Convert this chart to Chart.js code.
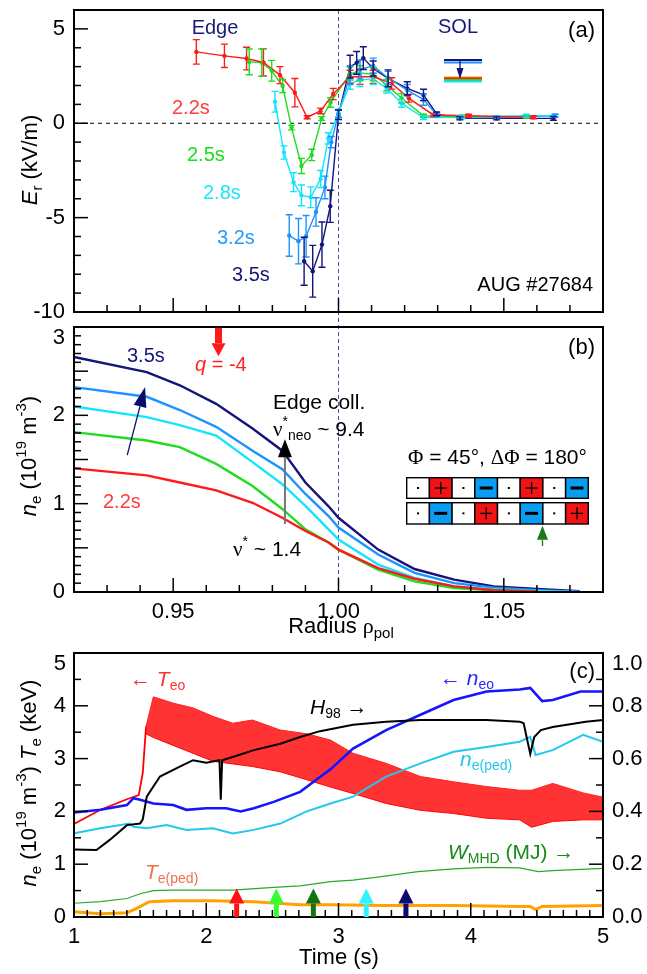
<!DOCTYPE html>
<html>
<head>
<meta charset="utf-8">
<script src="https://cdn.jsdelivr.net/npm/chart.js@4.4.1/dist/chart.umd.min.js"></script>
<style>
  html, body { margin: 0; padding: 0; background: #fff; }
  #wrap { position: relative; width: 647px; height: 974px; overflow: hidden; }
  canvas { position: absolute; left: 0; }
</style>
</head>
<body>
<div id="wrap">
  <canvas id="chartA" width="647" height="330" style="top:0px"></canvas>
  <canvas id="chartB" width="647" height="330" style="top:318px"></canvas>
  <canvas id="chartC" width="647" height="334" style="top:640px"></canvas>
</div>
<script>
// ---- panel (a): Er profiles, radius vs kV/m, with error bars ----
const erX22 = [0.957, 0.9655, 0.9722, 0.9773, 0.9823, 0.9868, 0.9905, 0.9946, 0.9984, 1.0035, 1.0065, 1.0105, 1.0161, 1.0213, 1.0287, 1.0393, 1.059];
const erY22 = [3.78, 3.57, 3.43, 3.22, 2.55, 1.62, 0.32, 0.65, 1.55, 2.46, 2.46, 2.46, 2.11, 1.32, 0.44, 0.40, 0.32];
const erE22 = [0.65, 0.62, 0.6, 0.72, 0.45, 0.75, 0.08, 0.15, 0.3, 0.35, 0.4, 0.35, 0.3, 0.2, 0.08, 0.08, 0.08];

const erX25 = [0.973, 0.9768, 0.9798, 0.9831, 0.9858, 0.9888, 0.9919, 0.9949, 0.9976, 1.0035, 1.0065, 1.0105, 1.0146, 1.0191, 1.0257, 1.0373, 1.0568];
const erY25 = [3.25, 3.21, 2.78, 1.97, -0.23, -2.26, -1.68, 0.25, 1.1, 2.64, 2.65, 2.6, 2.02, 1.32, 0.4, 0.35, 0.35];
const erE25 = [0.68, 0.72, 0.55, 0.35, 0.12, 0.4, 0.3, 0.1, 0.25, 0.35, 0.4, 0.35, 0.3, 0.25, 0.08, 0.08, 0.08];

const erX28 = [0.9808, 0.9835, 0.9864, 0.9888, 0.9916, 0.9946, 0.9969, 1.0, 1.0035, 1.0065, 1.0105, 1.0146, 1.0191, 1.0257, 1.0373, 1.0568, 1.0655];
const erY28 = [1.14, -1.55, -3.12, -3.82, -3.92, -2.95, -0.8, 0.55, 2.1, 2.3, 2.35, 1.85, 1.05, 0.3, 0.32, 0.4, 0.4];
const erE28 = [0.55, 0.35, 0.5, 0.55, 0.55, 0.45, 0.3, 0.2, 0.3, 0.35, 0.3, 0.25, 0.2, 0.1, 0.08, 0.08, 0.08];

const erX32 = [0.9851, 0.9879, 0.9902, 0.9932, 0.9959, 0.9978, 1.0, 1.0035, 1.0065, 1.0105, 1.015, 1.0208, 1.0257, 1.0297, 1.0367, 1.0478, 1.0655];
const erY32 = [-5.95, -6.25, -5.99, -4.7, -3.4, -1.0, 0.5, 2.55, 2.85, 3.05, 2.4, 1.75, 1.25, 0.45, 0.3, 0.3, 0.4];
const erE32 = [1.1, 1.2, 1.1, 0.75, 0.6, 0.3, 0.2, 0.5, 0.5, 0.4, 0.35, 0.3, 0.3, 0.1, 0.08, 0.08, 0.08];

const erX35 = [0.9896, 0.9922, 0.995, 0.9975, 1.0, 1.0035, 1.0055, 1.0075, 1.0105, 1.015, 1.0208, 1.0257, 1.0297, 1.0367, 1.0478, 1.065];
const erY35 = [-7.31, -7.84, -6.43, -4.4, 0.45, 3.0, 3.2, 3.45, 2.9, 2.38, 1.85, 1.5, 0.5, 0.26, 0.26, 0.26];
const erE35 = [1.27, 1.37, 1.2, 0.85, 0.25, 0.6, 0.6, 0.6, 0.4, 0.45, 0.35, 0.3, 0.1, 0.08, 0.08, 0.1];

const erTicks = [-10, -5, 0, 5];

// ---- panel (b): density profiles ----
const profX = [0.92, 0.942, 0.952, 0.963, 0.974, 0.983, 0.990, 0.997, 1.000, 1.012, 1.023, 1.035, 1.047, 1.060, 1.073];
const ne35 = [2.66, 2.49, 2.34, 2.13, 1.85, 1.60, 1.24, 0.97, 0.84, 0.48, 0.26, 0.14, 0.064, 0.034, 0.01];
const ne32 = [2.32, 2.21, 2.06, 1.87, 1.60, 1.39, 1.11, 0.86, 0.73, 0.425, 0.216, 0.10, 0.05, 0.02, 0.0];
const ne28 = [2.10, 1.98, 1.89, 1.77, 1.47, 1.22, 0.975, 0.71, 0.595, 0.31, 0.16, 0.064, 0.03, 0.012, 0.0];
const ne25 = [1.81, 1.715, 1.64, 1.45, 1.20, 0.94, 0.71, 0.56, 0.48, 0.254, 0.12, 0.045, 0.02, 0.005, null];
const ne22 = [1.40, 1.32, 1.24, 1.15, 1.01, 0.84, 0.69, 0.56, 0.48, 0.27, 0.15, 0.064, 0.02, 0.005, null];
const radiusTicks = [0.95, 1.0, 1.05];
const neTicks = [0, 1, 2, 3];
const coilRow1 = ['.', '+', '.', '-', '.', '+', '.', '-'];
const coilRow2 = ['.', '-', '.', '+', '.', '-', '.', '+'];

// ---- panel (c): time traces ----
const teoT0 = [1.0, 1.2, 1.4, 1.49, 1.52, 1.545];
const teo0 = [1.76, 2.03, 2.23, 2.31, 2.73, 3.61];
const teoT = [1.545, 1.6, 1.75, 1.9, 2.05, 2.2, 2.35, 2.56, 2.76, 2.94, 3.11, 3.36, 3.62, 3.87, 4.12, 4.37, 4.46, 4.62, 4.85, 5.0];
const teoHi = [3.61, 4.17, 4.05, 3.96, 3.80, 3.67, 3.73, 3.54, 3.47, 3.35, 3.1, 2.91, 2.66, 2.56, 2.47, 2.40, 2.40, 2.53, 2.35, 2.27];
const teoLo = [3.47, 3.4, 3.25, 3.1, 2.95, 2.9, 2.85, 2.75, 2.6, 2.46, 2.34, 2.15, 2.02, 1.96, 1.87, 1.84, 1.70, 1.81, 1.84, 1.84];

const neoT = [1.0, 1.2, 1.4, 1.45, 1.5, 1.6, 1.75, 1.85, 2.0, 2.15, 2.26, 2.36, 2.51, 2.71, 2.86, 2.94, 3.11, 3.36, 3.62, 3.87, 4.12, 4.37, 4.45, 4.54, 4.62, 4.83, 5.0];
const neo = [1.98, 2.03, 2.12, 2.25, 2.22, 2.15, 2.12, 2.03, 2.06, 2.06, 2.0, 2.06, 2.18, 2.37, 2.65, 2.8, 3.19, 3.54, 3.83, 4.11, 4.27, 4.31, 4.34, 4.09, 4.11, 4.27, 4.27];

const nePedT = [1.0, 1.2, 1.42, 1.45, 1.55, 1.7, 1.85, 2.05, 2.2, 2.36, 2.56, 2.76, 2.94, 3.11, 3.36, 3.62, 3.87, 4.12, 4.37, 4.45, 4.49, 4.62, 4.85, 5.0];
const nePed = [1.585, 1.68, 1.77, 1.71, 1.68, 1.74, 1.65, 1.68, 1.58, 1.65, 1.77, 2.0, 2.15, 2.28, 2.66, 2.91, 3.13, 3.22, 3.32, 3.41, 3.07, 3.16, 3.45, 3.32];

const h98T = [1.0, 1.17, 1.27, 1.4, 1.5, 1.52, 1.55, 1.65, 1.8, 1.9, 2.0, 2.1, 2.11, 2.12, 2.2, 2.36, 2.56, 2.71, 2.86, 3.11, 3.36, 3.62, 3.87, 4.12, 4.37, 4.4, 4.45, 4.48, 4.53, 4.62, 4.87, 5.0];
const h98 = [0.256, 0.254, 0.292, 0.348, 0.354, 0.37, 0.456, 0.532, 0.57, 0.594, 0.584, 0.594, 0.444, 0.594, 0.606, 0.632, 0.656, 0.682, 0.704, 0.728, 0.74, 0.746, 0.746, 0.746, 0.74, 0.734, 0.618, 0.682, 0.708, 0.72, 0.74, 0.746];

const wT = [1.0, 1.2, 1.4, 1.5, 1.6, 1.75, 2.05, 2.2, 2.51, 2.71, 2.94, 3.11, 3.31, 3.6, 3.87, 4.12, 4.37, 4.51, 4.62, 5.0];
const wMhd = [0.052, 0.058, 0.07, 0.088, 0.1, 0.102, 0.102, 0.102, 0.112, 0.118, 0.134, 0.14, 0.152, 0.172, 0.182, 0.188, 0.186, 0.172, 0.176, 0.184];

const tePedT = [1.0, 1.2, 1.4, 1.47, 1.57, 1.75, 2.05, 2.36, 2.71, 2.94, 3.36, 3.87, 4.37, 4.45, 4.49, 4.54, 5.0];
const tePed = [0.1, 0.06, 0.08, 0.16, 0.29, 0.31, 0.31, 0.29, 0.23, 0.23, 0.22, 0.22, 0.2, 0.2, 0.14, 0.2, 0.22];

const markTimes = [2.23, 2.53, 2.81, 3.21, 3.51];
const markColors = ["#ff1111", "#33ff33", "#127512", "#33f2ff", "#0c0c6e"];
const timeTicks = [1, 2, 3, 4, 5];
const leftTicks = [0, 1, 2, 3, 4, 5];
const rightTicks = [0, 0.2, 0.4, 0.6, 0.8, 1.0];

const FONT = '"Liberation Sans", Arial, Helvetica, sans-serif';
const SERIF = '"Liberation Serif", "DejaVu Serif", serif';
Chart.defaults.font.family = FONT;
Chart.defaults.color = "#000";

const C22 = "#ff1a1a", C25 = "#1fdc1f", C28 = "#14e4ff", C32 = "#1c94ff", C35 = "#14147a";

/**
 * Draw a run of text pieces (italic / sub / sup / greek) in one go.
 */
function drawRich(ctx, parts, x, y, o) {
  const size = o.size || 20;
  const fontOf = (p) => {
    const s = p.sub || p.sup ? Math.round(size * 0.68) : size;
    return (p.it ? "italic " : "") + s + "px " + (p.g ? SERIF : FONT);
  };
  ctx.save();
  ctx.fillStyle = o.color || "#000";
  ctx.textBaseline = "middle";
  ctx.textAlign = "left";
  let w = 0;
  parts.forEach((p) => { ctx.font = fontOf(p); w += ctx.measureText(p.t).width; });
  ctx.translate(x, y);
  if (o.rotate) ctx.rotate(-Math.PI / 2);
  let cx = o.align === "center" ? -w / 2 : o.align === "right" ? -w : 0;
  parts.forEach((p) => {
    ctx.font = fontOf(p);
    const dy = p.sub ? size * 0.3 : p.sup ? -size * 0.36 : 0;
    ctx.fillText(p.t, cx, dy);
    cx += ctx.measureText(p.t).width;
  });
  ctx.restore();
}

/**
 * Arrow from (x1,y1) to tip (x2,y2).
 */
function drawArrow(ctx, x1, y1, x2, y2, o) {
  const ang = Math.atan2(y2 - y1, x2 - x1);
  const hw = o.headW / 2;
  const bx = x2 - o.headL * Math.cos(ang), by = y2 - o.headL * Math.sin(ang);
  ctx.save();
  ctx.strokeStyle = o.shaft || o.color;
  ctx.lineWidth = o.width;
  ctx.beginPath();
  ctx.moveTo(x1, y1);
  ctx.lineTo(bx, by);
  ctx.stroke();
  ctx.fillStyle = o.color;
  ctx.beginPath();
  ctx.moveTo(x2, y2);
  ctx.lineTo(bx + hw * Math.sin(ang), by - hw * Math.cos(ang));
  ctx.lineTo(bx - hw * Math.sin(ang), by + hw * Math.cos(ang));
  ctx.closePath();
  ctx.fill();
  ctx.restore();
}

/**
 * Inward tick marks along one side of the plot box.
 */
function drawTicks(ctx, scale, step, major, side, a) {
  const first = Math.ceil(scale.min / step - 1e-9);
  const last = Math.floor(scale.max / step + 1e-9);
  for (let k = first; k <= last; k++) {
    const v = k * step;
    const r = v / major;
    const len = Math.abs(r - Math.round(r)) < 1e-6 ? 14 : 7;
    const p = scale.getPixelForValue(v);
    ctx.beginPath();
    if (side === "bottom") { ctx.moveTo(p, a.bottom); ctx.lineTo(p, a.bottom - len); }
    else if (side === "left") { ctx.moveTo(a.left, p); ctx.lineTo(a.left + len, p); }
    else { ctx.moveTo(a.right, p); ctx.lineTo(a.right - len, p); }
    ctx.stroke();
  }
}

function framePlugin(cfg) {
  return {
    id: "frame",
    afterDatasetsDraw(chart) {
      const { ctx, chartArea: a, scales } = chart;
      ctx.save();
      ctx.strokeStyle = "#000";
      ctx.lineWidth = 1.5;
      drawTicks(ctx, scales.x, cfg.x[0], cfg.x[1], "bottom", a);
      drawTicks(ctx, scales.y, cfg.y[0], cfg.y[1], "left", a);
      if (cfg.y2) drawTicks(ctx, scales.y2, cfg.y2[0], cfg.y2[1], "right", a);
      ctx.lineWidth = 2;
      ctx.strokeRect(a.left, a.top, a.right - a.left, a.bottom - a.top);
      ctx.restore();
    },
  };
}

/**
 * Linear axis with fixed thickness so the plot boxes line up.
 */
function axis(o) {
  return {
    type: "linear",
    position: o.position,
    min: o.min,
    max: o.max,
    grid: { display: false, drawTicks: false },
    border: { display: false },
    ticks: {
      display: !!o.ticks,
      padding: o.pad || 8,
      font: { size: 22, lineHeight: 1 },
      color: "#000",
      autoSkip: false,
      maxRotation: 0,
      callback: (v) => {
        const s = o.fmt ? o.fmt(v) : String(v);
        return o.pushTop && v === o.max ? ["", s] : s;
      },
    },
    afterBuildTicks: (s) => { if (o.ticks) s.ticks = o.ticks.map((v) => ({ value: v })); },
    afterFit: (s) => {
      if (s.isHorizontal()) s.height = o.fit; else s.width = o.fit;
      s.paddingTop = 0; s.paddingBottom = 0; s.paddingLeft = 0; s.paddingRight = 0;
    },
  };
}

function xy(xs, ys) {
  return xs.map((x, i) => ({ x: x, y: ys[i] }));
}

function baseOptions(padding, scales) {
  return {
    responsive: false,
    devicePixelRatio: 1,
    animation: false,
    layout: { padding: padding },
    plugins: { legend: { display: false }, tooltip: { enabled: false } },
    scales: scales,
  };
}

// ================= panel (a) =================
function erSet(xs, ys, errs, color) {
  return {
    data: xy(xs, ys), errs: errs,
    borderColor: color, backgroundColor: color,
    borderWidth: 1.4, pointRadius: 2.2, pointBorderWidth: 0, tension: 0,
  };
}

const errorBarPlugin = {
  id: "errorBars",
  afterDatasetsDraw(chart) {
    const ctx = chart.ctx, ys = chart.scales.y;
    chart.data.datasets.forEach((ds, i) => {
      const meta = chart.getDatasetMeta(i);
      ctx.save();
      ctx.strokeStyle = ds.borderColor;
      ctx.lineWidth = 1.4;
      meta.data.forEach((pt, j) => {
        const v = ds.data[j].y, e = ds.errs[j];
        const t = ys.getPixelForValue(v + e), b = ys.getPixelForValue(v - e);
        ctx.beginPath();
        ctx.moveTo(pt.x, t); ctx.lineTo(pt.x, b);
        ctx.moveTo(pt.x - 3.5, t); ctx.lineTo(pt.x + 3.5, t);
        ctx.moveTo(pt.x - 3.5, b); ctx.lineTo(pt.x + 3.5, b);
        ctx.stroke();
      });
      ctx.restore();
    });
  },
};

const notesA = {
  id: "notesA",
  beforeDatasetsDraw(chart) {
    const { ctx, chartArea: a, scales } = chart;
    ctx.save();
    ctx.lineWidth = 1;
    ctx.strokeStyle = "#000";
    ctx.setLineDash([4, 4]);
    const y0 = scales.y.getPixelForValue(0);
    ctx.beginPath(); ctx.moveTo(a.left, y0); ctx.lineTo(a.right, y0); ctx.stroke();
    ctx.strokeStyle = "#4c4cc8";
    ctx.setLineDash([4, 3]);
    const x1 = scales.x.getPixelForValue(1.0);
    ctx.beginPath(); ctx.moveTo(x1, a.top); ctx.lineTo(x1, chart.height); ctx.stroke();
    ctx.restore();
  },
  afterDraw(chart) {
    const ctx = chart.ctx;
    drawRich(ctx, [{ t: "E", it: 1 }, { t: "r", sub: 1 }, { t: " (kV/m)" }], 31, 160, { size: 22, rotate: 1, align: "center" });
    drawRich(ctx, [{ t: "Edge" }], 215, 28, { color: "#1a1a78", align: "center" });
    drawRich(ctx, [{ t: "SOL" }], 458, 27, { color: "#1a1a78", align: "center" });
    drawRich(ctx, [{ t: "(a)" }], 595, 31, { size: 22, align: "right" });
    drawRich(ctx, [{ t: "AUG #27684" }], 593, 285, { align: "right" });
    drawRich(ctx, [{ t: "2.2s" }], 172, 108, { color: "#ff3b3b" });
    drawRich(ctx, [{ t: "2.5s" }], 187, 155, { color: "#19e019" });
    drawRich(ctx, [{ t: "2.8s" }], 203, 193, { color: "#1ae6ff" });
    drawRich(ctx, [{ t: "3.2s" }], 217, 238, { color: "#1e9bff" });
    drawRich(ctx, [{ t: "3.5s" }], 232, 275, { color: "#151575" });
    // little SOL level-shift symbol
    ctx.save();
    ctx.lineWidth = 2;
    [["#14147a", 60], [C32, 62.5], ["#ff8a00", 77.5], [C22, 78.5], [C25, 80], [C28, 81.5]].forEach((l) => {
      ctx.strokeStyle = l[0];
      ctx.beginPath(); ctx.moveTo(444, l[1]); ctx.lineTo(482, l[1]); ctx.stroke();
    });
    ctx.restore();
    drawArrow(ctx, 460, 60, 460, 79, { color: "#14147a", width: 1.3, headL: 11, headW: 7 });
  },
};

new Chart(document.getElementById("chartA"), {
  type: "line",
  data: {
    datasets: [
      erSet(erX22, erY22, erE22, C22),
      erSet(erX25, erY25, erE25, C25),
      erSet(erX28, erY28, erE28, C28),
      erSet(erX32, erY32, erE32, C32),
      erSet(erX35, erY35, erE35, C35),
    ],
  },
  options: baseOptions({ left: 0, right: 44, top: 10, bottom: 0 }, {
    x: axis({ position: "bottom", min: 0.92, max: 1.08, fit: 18 }),
    y: axis({ position: "left", min: -10, max: 6, ticks: erTicks, fit: 74, pad: 9 }),
  }),
  plugins: [framePlugin({ x: [0.01, 0.05], y: [1, 5] }), errorBarPlugin, notesA],
});

// ================= panel (b) =================
function profSet(ys, color) {
  return { data: xy(profX, ys), borderColor: color, borderWidth: 2.4, pointRadius: 0, tension: 0 };
}

function drawCoilRow(ctx, row, x0, y0, cw, ch) {
  row.forEach((c, i) => {
    const x = x0 + i * cw;
    ctx.fillStyle = c === "+" ? "#f01414" : c === "-" ? "#0a9cf0" : "#fff";
    ctx.fillRect(x, y0, cw, ch);
    ctx.strokeStyle = "#000";
    ctx.lineWidth = 1.4;
    ctx.strokeRect(x, y0, cw, ch);
    const mx = x + cw / 2, my = y0 + ch / 2;
    ctx.fillStyle = "#000";
    if (c === ".") {
      ctx.fillRect(mx - 1, my - 1, 2, 2);
    } else if (c === "+") {
      ctx.fillRect(mx - 6, my - 0.6, 12, 1.3);
      ctx.fillRect(mx - 0.6, my - 6, 1.3, 12);
    } else {
      ctx.fillRect(mx - 6.5, my - 1.5, 13, 3);
    }
  });
}

const notesB = {
  id: "notesB",
  beforeDatasetsDraw(chart) {
    const { ctx, chartArea: a, scales } = chart;
    ctx.save();
    ctx.lineWidth = 1;
    ctx.strokeStyle = "#4c4cc8";
    ctx.setLineDash([4, 3]);
    const x1 = scales.x.getPixelForValue(1.0);
    ctx.beginPath(); ctx.moveTo(x1, 0); ctx.lineTo(x1, a.bottom); ctx.stroke();
    ctx.restore();
  },
  afterDraw(chart) {
    const { ctx, scales } = chart;
    const X = (v) => scales.x.getPixelForValue(v), Y = (v) => scales.y.getPixelForValue(v);
    drawRich(ctx, [{ t: "n", it: 1 }, { t: "e", sub: 1 }, { t: " (10" }, { t: "19", sup: 1 }, { t: " m" }, { t: "-3", sup: 1 }, { t: ")" }],
      30, 138, { size: 22, rotate: 1, align: "center" });
    drawRich(ctx, [{ t: "Radius " }, { t: "\u03c1", g: 1 }, { t: "pol", sub: 1 }], 341, 309, { size: 22, align: "center" });
    drawRich(ctx, [{ t: "3.5s" }], 127, 38, { color: "#14147a" });
    drawRich(ctx, [{ t: "q", it: 1 }, { t: " = -4" }], 195, 47, { color: "#ff2020" });
    drawRich(ctx, [{ t: "2.2s" }], 103, 184, { color: "#ff3b3b" });
    drawRich(ctx, [{ t: "Edge coll." }], 273, 85, { size: 21 });
    drawRich(ctx, [{ t: "\u03bd", g: 1 }, { t: "*", sup: 1 }, { t: "neo", sub: 1 }, { t: " ~ 9.4" }], 273, 112, { size: 21 });
    drawRich(ctx, [{ t: "\u03bd", g: 1 }, { t: "*", sup: 1 }, { t: " ~ 1.4" }], 233, 232, { size: 21 });
    drawRich(ctx, [{ t: "(b)" }], 595, 30, { size: 22, align: "right" });
    drawRich(ctx, [{ t: "\u03a6", g: 1 }, { t: " = 45\u00b0, " }, { t: "\u0394\u03a6", g: 1 }, { t: " = 180\u00b0" }], 408, 140, { size: 21 });
    ctx.save();
    drawCoilRow(ctx, coilRow1, 406.7, 159.7, 22.7, 20.6);
    drawCoilRow(ctx, coilRow2, 406.7, 184.7, 22.7, 21.3);
    ctx.restore();
    drawArrow(ctx, X(0.9637), Y(2.99), X(0.9637), Y(2.67), { color: "#ff1a1a", width: 7, headL: 13, headW: 14 });
    drawArrow(ctx, X(0.9361), Y(1.55), X(0.9415), Y(2.32), { color: "#0c0c6e", width: 1.3, headL: 20, headW: 13 });
    drawArrow(ctx, X(0.9838), Y(0.77), X(0.9838), Y(1.73), { color: "#000", shaft: "#777", width: 2, headL: 18, headW: 14 });
    drawArrow(ctx, X(1.0617), Y(0.52), X(1.0617), Y(0.75), { color: "#1a7a1a", width: 1.3, headL: 14, headW: 11 });
  },
};

new Chart(document.getElementById("chartB"), {
  type: "line",
  data: {
    datasets: [
      profSet(ne22, C22),
      profSet(ne25, C25),
      profSet(ne28, C28),
      profSet(ne32, C32),
      profSet(ne35, C35),
    ],
  },
  options: baseOptions({ left: 0, right: 44, top: 9, bottom: 0 }, {
    x: axis({ position: "bottom", min: 0.92, max: 1.08, ticks: radiusTicks, fmt: (v) => v.toFixed(2), fit: 56, pad: 9 }),
    y: axis({ position: "left", min: 0, max: 3, ticks: neTicks, pushTop: true, fit: 74, pad: 9 }),
  }),
  plugins: [framePlugin({ x: [0.01, 0.05], y: [0.1, 0.5] }), notesB],
});

// ================= panel (c) =================
function traceSet(xs, ys, color, width, axisId, extra) {
  return Object.assign({
    data: xy(xs, ys), borderColor: color, borderWidth: width,
    pointRadius: 0, tension: 0, yAxisID: axisId,
  }, extra || {});
}

const notesC = {
  id: "notesC",
  afterDraw(chart) {
    const { ctx, scales } = chart;
    drawRich(ctx, [{ t: "n", it: 1 }, { t: "e", sub: 1 }, { t: " (10" }, { t: "19", sup: 1 }, { t: " m" }, { t: "-3", sup: 1 },
      { t: ") " }, { t: "T", it: 1 }, { t: "e", sub: 1 }, { t: " (keV)" }], 30, 143, { size: 22, rotate: 1, align: "center" });
    drawRich(ctx, [{ t: "Time (s)" }], 339, 318, { size: 22, align: "center" });
    drawRich(ctx, [{ t: "\u2190 " }, { t: "T", it: 1 }, { t: "eo", sub: 1 }], 130, 40, { size: 21, color: "#ff3030" });
    drawRich(ctx, [{ t: "H", it: 1 }, { t: "98", sub: 1 }, { t: " \u2192" }], 310, 68, { size: 21 });
    drawRich(ctx, [{ t: "\u2190 " }, { t: "n", it: 1 }, { t: "eo", sub: 1 }], 440, 39, { size: 21, color: "#2828ff" });
    drawRich(ctx, [{ t: "n", it: 1 }, { t: "e(ped)", sub: 1 }], 460, 120, { size: 21, color: "#22c8ee" });
    drawRich(ctx, [{ t: "W", it: 1 }, { t: "MHD", sub: 1 }, { t: " (MJ) \u2192" }], 448, 213, { size: 21, color: "#1a8a1a" });
    drawRich(ctx, [{ t: "T", it: 1 }, { t: "e(ped)", sub: 1 }], 145, 233, { size: 21, color: "#f07050" });
    drawRich(ctx, [{ t: "(c)" }], 595, 32, { size: 22, align: "right" });
    markTimes.forEach((t, i) => {
      const x = scales.x.getPixelForValue(t);
      drawArrow(ctx, x, scales.y.getPixelForValue(0), x, scales.y.getPixelForValue(0.54),
        { color: markColors[i], width: 5, headL: 15, headW: 15 });
    });
  },
};

new Chart(document.getElementById("chartC"), {
  type: "line",
  data: {
    datasets: [
      traceSet(h98T, h98, "#000", 2, "y2"),
      traceSet(neoT, neo, "#1414ff", 2.6, "y"),
      traceSet(nePedT, nePed, "#22c8ee", 2, "y"),
      traceSet(tePedT, tePed, "#ffa200", 3, "y"),
      traceSet(wT, wMhd, "#2aa82a", 1.2, "y2"),
      traceSet(teoT0, teo0, "#ff0000", 1.8, "y"),
      traceSet(teoT, teoHi, "#ff2020", 1, "y", { fill: "+1", backgroundColor: "rgba(255,0,0,0.8)" }),
      traceSet(teoT, teoLo, "#ff0000", 1, "y"),
    ],
  },
  options: baseOptions({ left: 0, right: 0, top: 13, bottom: 0 }, {
    x: axis({ position: "bottom", min: 1, max: 5, ticks: timeTicks, fit: 57, pad: 9 }),
    y: axis({ position: "left", min: 0, max: 5, ticks: leftTicks, pushTop: true, fit: 74, pad: 8 }),
    y2: axis({ position: "right", min: 0, max: 1, ticks: rightTicks, fmt: (v) => v.toFixed(1), pushTop: true, fit: 44, pad: 9 }),
  }),
  plugins: [framePlugin({ x: [0.1, 1], y: [0.5, 1], y2: [0.1, 0.2] }), notesC],
});
</script>
</body>
</html>
